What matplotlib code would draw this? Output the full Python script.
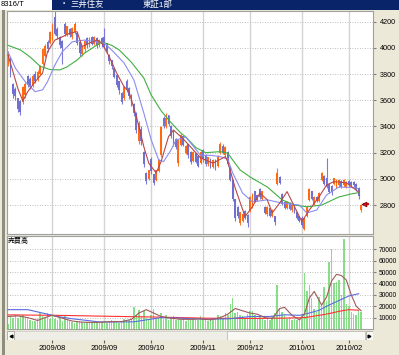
import numpy as np
import matplotlib
matplotlib.use('Agg')
import matplotlib.pyplot as plt
from matplotlib.patches import Rectangle

plt.rcParams['font.family'] = ['Liberation Sans', 'Noto Sans CJK JP', 'DejaVu Sans']

W, H = 399, 355

# 日足 (trading-day index 0..143)
opens = [3880, 3920, 3720, 3680, 3610, 3590, 3590, 3640, 3780, 3760,
         3720, 3800, 3760, 3800, 3880, 3940, 4040, 4040, 4060, 4230,
         4140, 4080, 4050, 4180, 4100, 4140, 4080, 4120, 4110, 4040,
         3950, 3990, 4070, 4020, 4080, 4030, 4070, 4020, 4070, 4080,
         4030, 3940, 3900, 3840, 3790, 3740, 3650, 3620, 3740, 3690,
         3640, 3570, 3500, 3290, 3380, 3200, 3040, 3000, 3150, 3030,
         2990, 3060, 3180, 3460, 3400, 3480, 3400, 3360, 3300, 3120,
         3260, 3320, 3200, 3260, 3200, 3140, 3190, 3170, 3120, 3220,
         3180, 3110, 3150, 3090, 3140, 3100, 3200, 3250, 3180, 3200,
         3090, 2990, 2840, 2780, 2660, 2680, 2750, 2720, 2760, 2790,
         2900, 2870, 2920, 2850, 2780, 2730, 2770, 2720, 2710, 2960,
         3010, 2880, 2820, 2780, 2810, 2760, 2790, 2740, 2710, 2700,
         2620, 2720, 2840, 2900, 2810, 2860, 2830, 2990, 3020, 3000,
         2960, 2940, 2960, 2940, 2950, 2980, 2950, 2940, 2980, 2970,
         2970, 2960, 2930, 2760]
closes = [3950, 3800, 3650, 3630, 3530, 3510, 3700, 3720, 3720, 3700,
          3780, 3750, 3810, 3860, 3990, 4010, 3990, 4120, 4170, 4110,
          4090, 4020, 4000, 4110, 4160, 4100, 4150, 4180, 4040, 3960,
          4010, 4050, 4020, 4070, 4030, 4080, 4020, 4060, 4030, 4010,
          3980, 3900, 3860, 3780, 3720, 3680, 3590, 3700, 3680, 3630,
          3580, 3500, 3370, 3420, 3290, 3110, 2980, 3060, 3060, 2970,
          3060, 3140, 3390, 3400, 3460, 3420, 3330, 3280, 3240, 3290,
          3330, 3260, 3250, 3180, 3130, 3200, 3130, 3100, 3200, 3150,
          3110, 3160, 3090, 3140, 3090, 3170, 3260, 3200, 3240, 3110,
          2990, 2850, 2700, 2720, 2740, 2730, 2700, 2660, 2860, 2880,
          2830, 2840, 2860, 2900, 2740, 2780, 2720, 2760, 2670, 3040,
          2970, 2810, 2780, 2820, 2770, 2800, 2750, 2700, 2680, 2650,
          2700, 2780, 2920, 2850, 2860, 2830, 2890, 3040, 2960, 2940,
          2900, 2900, 3000, 2990, 2990, 2940, 2990, 2970, 2950, 2950,
          2950, 2920, 2870, 2800]
highs = [3980, 3930, 3730, 3700, 3620, 3600, 3710, 3740, 3790, 3780,
         3800, 3820, 3830, 3870, 4000, 4030, 4060, 4130, 4190, 4290,
         4160, 4090, 4060, 4200, 4170, 4150, 4160, 4200, 4120, 4050,
         4020, 4060, 4080, 4080, 4090, 4090, 4080, 4070, 4080, 4150,
         4040, 3950, 3910, 3850, 3800, 3750, 3660, 3710, 3760, 3700,
         3650, 3580, 3510, 3440, 3400, 3210, 3050, 3070, 3170, 3040,
         3070, 3150, 3400, 3480, 3500, 3490, 3410, 3370, 3310, 3300,
         3340, 3330, 3260, 3270, 3210, 3210, 3200, 3180, 3210, 3230,
         3190, 3170, 3160, 3150, 3150, 3180, 3280, 3270, 3250, 3210,
         3100, 3000, 2850, 2790, 2750, 2740, 2760, 2730, 2870, 2890,
         2910, 2880, 2930, 2910, 2790, 2790, 2780, 2770, 2720, 3080,
         3020, 2890, 2830, 2830, 2820, 2810, 2800, 2750, 2720, 2720,
         2710, 2790, 2930, 2910, 2870, 2870, 2900, 3050, 3030, 3160,
         2970, 2950, 3010, 3000, 3000, 2990, 3000, 2980, 2990, 2980,
         2980, 2970, 2940, 2810]
lows = [3860, 3780, 3620, 3600, 3510, 3490, 3570, 3620, 3700, 3690,
        3700, 3730, 3750, 3790, 3870, 3930, 3970, 4030, 4050, 4100,
        4070, 4000, 3880, 4090, 4090, 4080, 4070, 4110, 4020, 3940,
        3940, 3970, 4000, 4010, 4020, 4020, 4000, 4010, 4010, 4000,
        3960, 3880, 3840, 3770, 3700, 3650, 3570, 3600, 3660, 3610,
        3560, 3480, 3350, 3270, 3260, 3090, 2960, 2990, 3040, 2950,
        2980, 3050, 3170, 3390, 3390, 3400, 3310, 3250, 3230, 3100,
        3250, 3250, 3190, 3160, 3110, 3130, 3120, 3090, 3110, 3130,
        3100, 3100, 3080, 3080, 3070, 3090, 3190, 3190, 3160, 3100,
        2980, 2830, 2680, 2700, 2650, 2670, 2690, 2630, 2750, 2780,
        2820, 2830, 2850, 2840, 2730, 2720, 2710, 2710, 2650, 2950,
        2960, 2800, 2770, 2770, 2760, 2750, 2740, 2690, 2670, 2630,
        2610, 2710, 2830, 2840, 2800, 2820, 2820, 2980, 2950, 2930,
        2890, 2880, 2950, 2930, 2940, 2930, 2940, 2930, 2940, 2940,
        2940, 2910, 2850, 2750]

# 売買高
volumes = [4000, 11000, 10000, 12000, 10000, 11000, 12000, 10000, 9000, 8000,
           7000, 7000, 9000, 15000, 11000, 10000, 14000, 9000, 12000, 9000,
           8000, 10000, 7000, 12000, 8000, 7000, 6000, 5500, 6000, 7000,
           6000, 5000, 6500, 6000, 5500, 7000, 6000, 5000, 6500, 7000,
           5500, 7000, 8000, 6000, 6500, 5000, 7000, 9000, 8000, 7500,
           9000, 19500, 12000, 17000, 11000, 16000, 10000, 9000, 12000, 18000,
           9000, 10000, 14000, 9000, 12000, 8000, 9000, 11000, 8000, 9000,
           8000, 10000, 7000, 9000, 8000, 10000, 9000, 8000, 11000, 9000,
           8000, 7000, 9000, 8000, 10000, 12000, 11000, 10000, 14000, 12000,
           22000, 27500, 14000, 15000, 12000, 11000, 10000, 13000, 16000, 16000,
           12000, 10000, 11000, 9000, 8000, 9000, 8000, 11000, 14000, 38500,
           18000, 15000, 12000, 9000, 10000, 8000, 9000, 8000, 10000, 12000,
           49500, 33000, 39000, 27000, 18000, 15000, 28000, 22000, 37000, 25000,
           59000, 70000, 40000, 41000, 43000, 30000, 79000, 22000, 20000, 15000,
           13000, 12000, 17000, 15000]

# 移動平均
ma_short_idx = [0, 2, 4, 6, 8, 11, 14, 16, 19, 22, 25, 28, 30, 33, 36, 38, 41, 44, 47, 49,
                52, 55, 57, 60, 62, 65, 67, 70, 72, 78, 83, 88, 89, 92, 96, 99, 102, 105,
                107, 110, 113, 116, 119, 122, 126, 129, 132, 137, 142]
ma_short = [3946, 3820, 3690, 3595, 3666, 3742, 3808, 3971, 4060, 4085, 4113, 4124, 4010,
            4037, 4060, 4037, 3933, 3808, 3704, 3666, 3475, 3246, 3120, 3045, 3132, 3322,
            3373, 3322, 3284, 3160, 3120, 3170, 3130, 2930, 2712, 2788, 2892, 2840, 2740,
            2815, 2903, 2788, 2673, 2762, 2864, 2953, 2979, 2970, 2900]
ma_mid_idx = [0, 3, 7, 11, 14, 16, 19, 22, 26, 31, 36, 39, 42, 47, 51, 55, 58, 61, 63, 66,
              68, 72, 78, 82, 86, 89, 91, 95, 99, 105, 111, 118, 121, 125, 129, 134, 139, 142]
ma_mid = [3970, 3846, 3742, 3666, 3680, 3742, 3870, 3971, 4047, 4060, 4047, 4037, 3984,
          3885, 3755, 3503, 3297, 3145, 3132, 3220, 3297, 3320, 3180, 3180, 3170, 3150,
          3045, 2892, 2824, 2840, 2815, 2800, 2740, 2762, 2877, 2938, 2935, 2925]
ma_long_idx = [0, 5, 9, 13, 17, 21, 24, 28, 31, 35, 38, 42, 45, 50, 55, 58, 62, 66, 70, 72,
               76, 80, 86, 89, 94, 98, 105, 111, 116, 121, 127, 134, 139, 142]
ma_long = [4020, 3985, 3930, 3860, 3835, 3832, 3856, 3908, 3960, 4010, 4045, 4020, 3985,
           3890, 3770, 3640, 3520, 3430, 3350, 3320, 3240, 3200, 3208, 3195, 3068, 3015,
           2938, 2840, 2800, 2787, 2800, 2862, 2885, 2895]

vma_short_idx = [0, 4, 8, 12, 15, 18, 22, 26, 30, 34, 38, 42, 46, 50, 53, 56, 59, 62, 66, 70,
                 74, 78, 82, 86, 89, 92, 95, 98, 101, 104, 107, 110, 112, 115, 118, 120, 122,
                 124, 126, 127, 129, 131, 133, 135, 137, 139, 141, 143]
vma_short = [11000, 11500, 10000, 7500, 10000, 12000, 9500, 7000, 6000, 5800, 6000, 6500,
             6500, 8500, 14000, 17000, 14000, 11000, 9500, 8500, 8500, 9000, 8000, 10000,
             13000, 18000, 16000, 14000, 13000, 10000, 9000, 18000, 19000, 12000, 8000,
             13000, 27000, 33000, 25000, 21000, 28000, 42000, 48000, 47000, 43000, 30000,
             20000, 16000]
vma_mid_idx = [0, 8, 14, 20, 26, 32, 37, 44, 51, 56, 62, 70, 80, 90, 98, 106, 112, 118, 122,
               126, 130, 134, 138, 142]
vma_mid = [17000, 17000, 14000, 11000, 9000, 7500, 6200, 6200, 6300, 8000, 10000, 9500, 8500,
           9000, 11000, 11000, 12500, 12000, 14000, 16500, 21000, 25000, 29000, 31000]
vma_long_idx = [0, 20, 40, 60, 80, 100, 110, 120, 126, 130, 134, 138, 142]
vma_long = [12400, 12000, 11200, 10500, 9500, 9300, 9500, 10000, 12000, 13500, 15500, 17000,
            16500]

month_idx = [18, 39, 58, 79, 98, 119, 138]
month_labels = ['2009/08', '2009/09', '2009/10', '2009/11', '2009/12', '2010/01', '2010/02']
last_price = 2808

days = np.arange(len(closes))
o = np.array(opens)
c = np.array(closes)
up = c >= o


def fx(x):
    return x / W


def fy(y):
    return 1 - y / H


fig = plt.figure(figsize=(W / 100, H / 100), dpi=100, facecolor='#ECE9D8')

# title bar
fig.add_artist(Rectangle((0, fy(10)), fx(52), 10 / H, transform=fig.transFigure,
                         facecolor='white', edgecolor='none'))
fig.add_artist(Rectangle((fx(52), fy(10)), 1 - fx(52), 10 / H, transform=fig.transFigure,
                         facecolor='#0A246A', edgecolor='none'))
fig.text(fx(1), fy(5), '8316/T', fontsize=5.5, va='center', ha='left')
fig.text(fx(60), fy(5), '・', fontsize=6, va='center', ha='left', color='white')
fig.text(fx(70), fy(5), '三井住友', fontsize=6, va='center', ha='left', color='white')
fig.text(fx(143), fy(5), '東証1部', fontsize=6, va='center', ha='left', color='white')
# left frame
fig.add_artist(Rectangle((fx(2), 0), 3 / W, fy(10), transform=fig.transFigure,
                         facecolor='#8E8E80', edgecolor='none'))

xmin, xmax = -0.4, 147.8

# ---- price panel
ax = fig.add_axes([fx(7), fy(234), (373 - 7) / W, (234 - 11) / H])
ax.set_facecolor('white')
ax.set_axisbelow(True)
ax.vlines(days, lows, highs, colors=np.where(up, '#FF7A30', '#7C7CD8'), lw=0.8, zorder=2)
ax.bar(days, np.abs(c - o) + 4, bottom=np.minimum(o, c), width=0.75,
       color=np.where(up, '#FF6A10', '#7070D0'), zorder=2)
ax.plot(ma_long_idx, ma_long, color='#40B040', lw=0.8, zorder=3)
ax.plot(ma_mid_idx, ma_mid, color='#8C8CF0', lw=0.8, zorder=3)
ax.plot(ma_short_idx, ma_short, color='#B84848', lw=0.8, zorder=3)
ax.plot([144.2, 145.6], [last_price, last_price], color='#E01010', lw=1.5, zorder=4)
ax.plot(144.2, last_price, marker='<', ms=3.5, color='#E01010', mec='#700000', mew=0.5, zorder=4)
ax.set_xlim(xmin, xmax)
ax.set_ylim(2579, 4282)
ax.set_xticks(month_idx)
ax.set_yticks(range(2800, 4201, 200))
ax.yaxis.tick_right()
ax.tick_params(axis='x', length=0, labelbottom=False)
ax.tick_params(axis='y', labelsize=5.2, length=2, pad=3, color='#808080')
ax.grid(axis='x', color='#D4D4D4', lw=1.0)
ax.grid(axis='y', color='#A8A8A8', lw=0.6, linestyle=(0, (1, 2)))
for s in ax.spines.values():
    s.set_color('#A0A0A0')

# ---- volume panel
axv = fig.add_axes([fx(7), fy(329), (373 - 7) / W, (329 - 236) / H])
axv.set_facecolor('white')
axv.set_axisbelow(True)
axv.bar(days, volumes, width=0.6, color='#88DD88', zorder=2)
axv.plot(vma_long_idx, vma_long, color='#FF3030', lw=0.8, zorder=3)
axv.plot(vma_mid_idx, vma_mid, color='#5A6AE0', lw=0.8, zorder=3)
axv.plot(vma_short_idx, vma_short, color='#A05A5A', lw=0.8, zorder=3)
axv.set_xlim(xmin, xmax)
axv.set_ylim(0, 81700)
axv.set_xticks(month_idx)
axv.set_yticks(range(10000, 70001, 10000))
axv.yaxis.tick_right()
axv.tick_params(axis='x', length=0, labelbottom=False)
axv.tick_params(axis='y', labelsize=4.8, length=2, pad=2, color='#808080')
axv.grid(axis='x', color='#D4D4D4', lw=1.0)
axv.grid(axis='y', color='#A8A8A8', lw=0.6, linestyle=(0, (1, 2)))
for s in axv.spines.values():
    s.set_color('#A0A0A0')
axv.text(0.003, 0.94, '売買高', transform=axv.transAxes, fontsize=5, va='center', ha='left')

# ---- scroll bar + dates
axs = fig.add_axes([fx(7), fy(340), (373 - 7) / W, 9 / H])
axs.set_xlim(xmin, xmax)
axs.set_ylim(0, 1)
axs.add_patch(Rectangle((0, 0), 1, 1, transform=axs.transAxes, facecolor='#EEEDE6',
                        edgecolor='#C8C8C0', lw=0.5))
axs.add_patch(Rectangle((220 / 366, 0.05), 138 / 366, 0.9, transform=axs.transAxes,
                        facecolor='#F8F8F4', edgecolor='#BEBEB6', lw=0.6))
axs.add_patch(Rectangle((0, 0), 7 / 366, 1, transform=axs.transAxes, facecolor='#F8F8F4',
                        edgecolor='#A8A8A0', lw=0.6))
axs.add_patch(Rectangle((359 / 366, 0), 7 / 366, 1, transform=axs.transAxes,
                        facecolor='#F8F8F4', edgecolor='#A8A8A0', lw=0.6))
axs.plot(3.5 / 366, 0.5, marker='<', ms=2, color='black', transform=axs.transAxes)
axs.plot(362.5 / 366, 0.5, marker='>', ms=2, color='black', transform=axs.transAxes)
axs.set_xticks(month_idx)
axs.set_xticklabels(month_labels)
axs.set_yticks([])
axs.tick_params(axis='x', labelsize=5.5, length=2.5, pad=1, color='#606060')
for s in axs.spines.values():
    s.set_visible(False)

fig.savefig('out.png', dpi=100, facecolor=fig.get_facecolor())
